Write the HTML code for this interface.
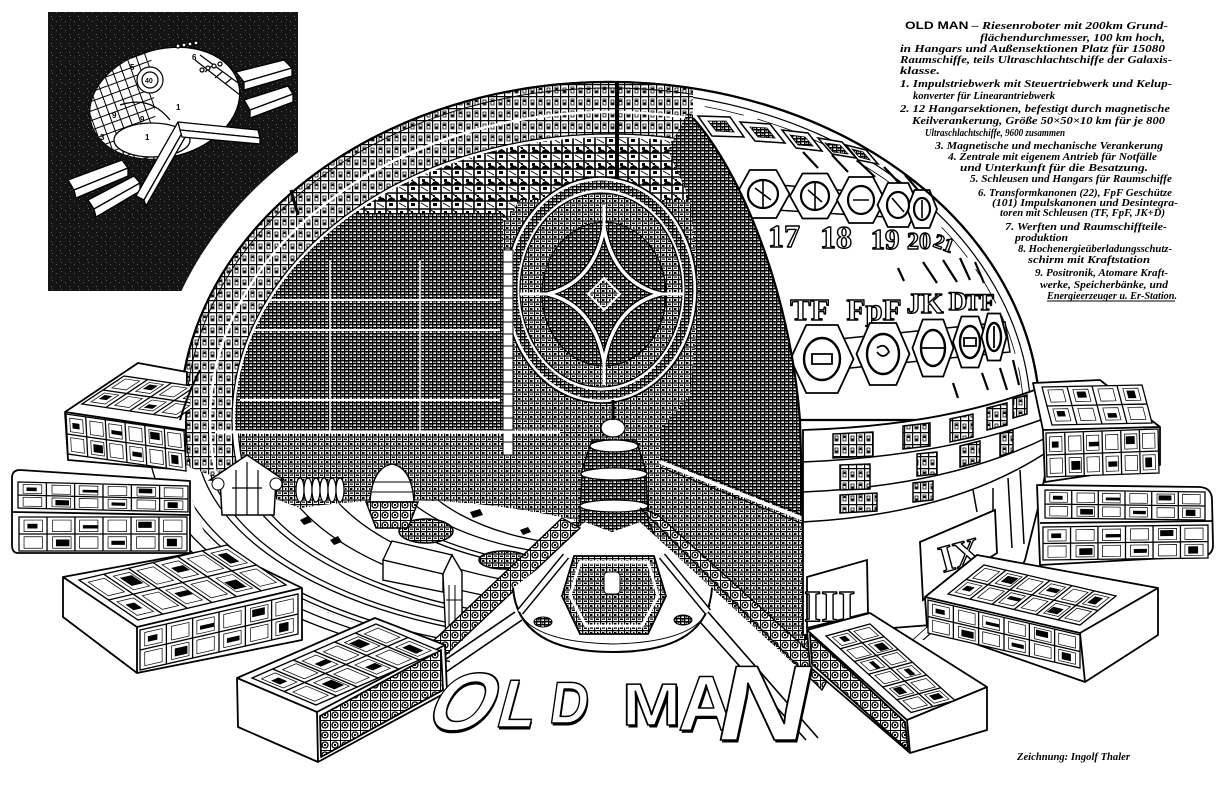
<!DOCTYPE html>
<html><head><meta charset="utf-8"><title>Old Man</title>
<style>
html,body{margin:0;padding:0;background:#fff;width:1227px;height:803px;overflow:hidden}
svg{display:block}
.t{font-family:"Liberation Serif",serif;font-style:italic;font-weight:bold;font-size:11px;fill:#000}
.big{font-family:"Liberation Sans",sans-serif;font-weight:bold;fill:#fff;stroke:#000;stroke-width:1.5;stroke-linejoin:round}
.sh{font-family:"Liberation Sans",sans-serif;font-weight:bold;fill:#000;stroke:none}
.num{font-family:"Liberation Serif",serif;font-weight:bold;fill:#fff;stroke:#000;stroke-width:1.4;stroke-linejoin:round}
</style></head><body>
<svg xmlns="http://www.w3.org/2000/svg" width="1227" height="803" viewBox="0 0 1227 803">
<defs>
<pattern id="pMed" width="12" height="9" patternUnits="userSpaceOnUse">
<rect width="12" height="9" fill="#fff"/>
<path d="M0 .6H12M0 5H12M.6 0V9M6.6 0V9" stroke="#000" stroke-width="1.2"/>
<path d="M2 2h2.5v2h-2.5zM8 6.5h3v1.5h-3zM9 2h1.5v2h-1.5zM2 6.5h3v1.3h-3z"/>
</pattern>
<pattern id="pDark" width="8" height="6" patternUnits="userSpaceOnUse">
<rect width="8" height="6" fill="#fff"/>
<path d="M0 .7H8M0 3.7H8M.7 0V6M4.7 0V6" stroke="#000" stroke-width="1.4"/>
<path d="M2 1.5h1.5v1h-1.5zM6 4.5h1.5v1h-1.5z"/>
</pattern>
<pattern id="pCell" width="16" height="12" patternUnits="userSpaceOnUse">
<rect width="16" height="12" fill="#fff"/>
<path d="M0 .6H16M.6 0V12M8.6 0V12" stroke="#000" stroke-width="1.2"/>
<path d="M3 4h3v5h-3zM11 3h3v6h-3z" fill="none" stroke="#000" stroke-width=".8"/>
<path d="M3.5 6.5h2v2h-2zM11.5 4h2v2h-2z"/>
</pattern>
<pattern id="pLat" width="22" height="16" patternUnits="userSpaceOnUse">
<rect width="22" height="16" fill="#fff"/>
<path d="M0 1H22M0 9H22M1 0V16M12 0V16" stroke="#000" stroke-width="1.6"/>
<path d="M4 9a3.5 3 0 0 1 7 0zM14 9a3.5 3 0 0 1 7 0z" fill="#000" stroke="#000" stroke-width=".9"/>
<path d="M15 11h4v3h-4zM4 3h3v3h-3zM15 3h2v2h-2z"/>
<path d="M13 2l8 6M3 11l7 4" stroke="#000" stroke-width=".9"/>
</pattern>
<pattern id="pOrn" width="10" height="10" patternUnits="userSpaceOnUse">
<rect width="10" height="10" fill="#fff"/>
<circle cx="5" cy="5" r="3" fill="none" stroke="#000" stroke-width="1.3"/>
<path d="M0 .5H10M.5 0V10" stroke="#000" stroke-width="1"/>
<path d="M4 4h2v2h-2z"/>
</pattern>
<pattern id="pSpk" width="9" height="9" patternUnits="userSpaceOnUse">
<rect width="9" height="9" fill="#141414"/>
<path d="M2 3h1v1h-1zM6 7h1v1h-1zM7 1h1v1h-1z" fill="#5a5a5a"/>
</pattern>
<pattern id="pRG" width="9" height="9" patternUnits="userSpaceOnUse" patternTransform="rotate(-20)">
<rect width="9" height="9" fill="#fff"/>
<path d="M0 .5H9M.5 0V9" stroke="#000" stroke-width="1"/>
</pattern>
<g id="w26">
<path d="M0 0H100V100H0ZM0 50H100M16.7 0V100M33.3 0V100M50 0V100M66.7 0V100M83.3 0V100" fill="#fff" stroke="#000" stroke-width="1.3" vector-effect="non-scaling-stroke"/>
<path d="M3 9h11v34h-11zM20 9h11v34h-11zM36 9h11v34h-11zM53 9h11v34h-11zM70 9h11v34h-11zM86 9h11v34h-11zM3 58h11v34h-11zM20 58h11v34h-11zM36 58h11v34h-11zM53 58h11v34h-11zM70 58h11v34h-11zM86 58h11v34h-11z" fill="none" stroke="#000" stroke-width=".7" vector-effect="non-scaling-stroke"/>
<path d="M5 20h6v14h-6zM38 24h9v10h-9zM71 14h8v18h-8zM22 66h8v20h-8zM55 70h8v12h-8zM88 64h6v22h-6z"/>
</g>
<g id="w24">
<path d="M0 0H100V100H0ZM0 50H100M25 0V100M50 0V100M75 0V100" fill="#fff" stroke="#000" stroke-width="1.3" vector-effect="non-scaling-stroke"/>
<path d="M5 10h15v32h-15zM30 10h15v32h-15zM55 10h15v32h-15zM80 10h15v32h-15zM5 60h15v32h-15zM30 60h15v32h-15zM55 60h15v32h-15zM80 60h15v32h-15z" fill="none" stroke="#000" stroke-width=".7" vector-effect="non-scaling-stroke"/>
<path d="M8 22h8v14h-8zM58 16h9v12h-9zM33 70h9v16h-9zM83 66h8v20h-8z"/>
</g>
<clipPath id="cDome"><ellipse cx="610" cy="420" rx="430" ry="338"/></clipPath>
<clipPath id="cInt"><path d="M150,60 H693 V118 C740,170 790,290 800,420 L806,640 L822,690 L640,522 L612,532 L585,522 L440,645 A440,222 0 0 1 160,438 L150,438 Z"/></clipPath>
<clipPath id="cIn"><ellipse cx="610" cy="420" rx="375" ry="283"/></clipPath>
<clipPath id="cFloor"><path d="M175,462 L300,508 Q430,488 575,520 L440,645 A440,222 0 0 1 160,438 Z"/></clipPath>
<clipPath id="cExt"><path d="M693,118 C740,170 790,290 800,420 L806,640 L1100,640 L1100,40 L693,40 Z"/></clipPath>
<clipPath id="cRob"><ellipse cx="165" cy="103" rx="76" ry="54" transform="rotate(-15 165 103)"/></clipPath>
<clipPath id="cOut"><rect x="150" y="440" width="300" height="260"/></clipPath>
<clipPath id="cBA"><polygon points="60,360 190,360 190,480 60,480"/></clipPath>
</defs>

<rect width="1227" height="803" fill="#fff"/>

<!-- black inset box -->
<rect x="48" y="12" width="250" height="279" fill="url(#pSpk)"/>
<g stroke="#000" stroke-width="1.3" stroke-linejoin="round">
<polygon points="236,72 284,60 292,68 244,82" fill="#fff"/>
<polygon points="244,82 292,68 292,76 244,90" fill="#fff"/>
<polygon points="244,100 288,86 293,94 250,110" fill="#fff"/>
<polygon points="250,110 293,94 293,102 250,118" fill="#fff"/>
<ellipse cx="165" cy="103" rx="76" ry="54" transform="rotate(-15 165 103)" fill="#fff"/>
</g>
<g clip-path="url(#cRob)">
<polygon points="85,55 150,40 160,180 85,180" fill="url(#pRG)"/>
<path d="M195,60 L240,95 M200,55 L245,88 M205,72 L212,66 M215,78 L222,72 M225,84 L232,78" stroke="#000" stroke-width="1.2"/>
<ellipse cx="152" cy="140" rx="38" ry="17" fill="#fff" stroke="#000" stroke-width="1.3"/>
<path d="M120,105 Q150,95 170,120" fill="none" stroke="#000" stroke-width="1.3"/>
</g>
<g fill="#fff" stroke="#000" stroke-width="1.2">
<circle cx="150" cy="80" r="13"/><circle cx="150" cy="80" r="8"/>
<circle cx="178" cy="46" r="2"/><circle cx="184" cy="45" r="2"/><circle cx="190" cy="44" r="2"/><circle cx="196" cy="43" r="2"/>
<circle cx="202" cy="70" r="2"/><circle cx="208" cy="68" r="2"/><circle cx="214" cy="66" r="2"/><circle cx="220" cy="64" r="2"/>
</g>
<g font-family="Liberation Sans, sans-serif" font-size="8" font-weight="bold" fill="#000">
<text x="145" y="83" font-size="7">40</text><text x="130" y="70">5</text><text x="112" y="118">9</text><text x="140" y="122">9</text><text x="176" y="110">1</text><text x="145" y="140">1</text><text x="100" y="140">3</text><text x="192" y="60">6</text>
</g>
<g stroke="#000" stroke-width="1.3" stroke-linejoin="round" fill="#fff">
<polygon points="68,180 122,160 128,168 74,190"/>
<polygon points="74,190 128,168 128,176 76,198"/>
<polygon points="88,200 134,176 140,183 94,209"/>
<polygon points="94,209 140,183 140,191 96,217"/>
<polygon points="136,196 178,122 186,126 144,200"/>
<polygon points="144,200 186,126 188,132 146,206"/>
<polygon points="178,122 258,130 260,138 180,130"/>
<polygon points="180,130 260,138 260,144 182,137"/>
</g>

<!-- white halo around dome -->
<ellipse cx="610" cy="420" rx="458" ry="366" fill="#fff"/>

<!-- dome exterior -->
<path d="M180,420 A430,338 0 0 1 1040,420 Z" fill="#fff" stroke="#000" stroke-width="2.2"/>
<g clip-path="url(#cExt)">
<ellipse cx="610" cy="420" rx="421" ry="329" fill="none" stroke="#000" stroke-width="1.2"/>
<ellipse cx="610" cy="420" rx="414" ry="322" fill="none" stroke="#000" stroke-width=".8" stroke-dasharray="40 14"/>
</g>
<g stroke="#000" stroke-width="1.5" fill="#fff">
<polygon points="698,116 730,117 744,137 712,136"/>
<polygon points="740,122 770,124 785,143 755,141"/>
<polygon points="782,130 808,133 822,151 796,148"/>
<polygon points="818,138 842,142 856,158 832,154"/>
<polygon points="846,145 866,150 878,164 858,160"/>
</g>
<g fill="url(#pDark)" stroke="#000" stroke-width=".8">
<polygon points="708,121 726,121 734,132 716,131"/>
<polygon points="750,127 767,128 775,138 758,137"/>
<polygon points="790,135 805,137 813,146 798,145"/>
<polygon points="825,143 840,145 848,154 833,152"/>
<polygon points="852,149 863,152 870,160 859,157"/>
</g>
<path d="M803,152 L818,168 M832,155 L848,172 M857,160 L875,177 M884,167 L902,186 M905,175 L918,190 M898,268 L904,281 M923,262 L937,283 M943,260 L957,282 M960,258 L970,280 M975,262 L984,283 M953,383 L958,398 M982,373 L988,390 M1000,368 L1007,390 M1013,360 L1019,385" stroke="#000" stroke-width="2.2"/>
<!-- hex row 1 -->
<polygon points="745,182 932,198 932,220 745,208" fill="#fff" stroke="#000" stroke-width="1.5"/>
<g fill="#fff" stroke="#000" stroke-width="1.8">
<polygon points="736.5,194 749.75,170 776.25,170 789.5,194 776.25,218 749.75,218"/>
<polygon points="790,196 802.5,173.5 827.5,173.5 840,196 827.5,218.5 802.5,218.5"/>
<polygon points="837,200 849,177 873,177 885,200 873,223 849,223"/>
<polygon points="877.5,205 887.75,183 908.25,183 918.5,205 908.25,227 887.75,227"/>
<polygon points="907,209 914.5,190 929.5,190 937,209 929.5,228 914.5,228"/>
</g>
<g fill="#fff" stroke="#000" stroke-width="2.2">
<ellipse cx="763" cy="194" rx="15" ry="14"/><ellipse cx="815" cy="196" rx="14" ry="14"/><ellipse cx="861" cy="200" rx="13" ry="14"/><ellipse cx="898" cy="205" rx="11" ry="13"/><ellipse cx="922" cy="209" rx="8" ry="11"/>
</g>
<path d="M755,188 L771,200 M763,181 V207 M808,190 L822,202 M815,183 V209 M853,200 H869 M892,198 L904,212 M922,200 V218" stroke="#000" stroke-width="1.6"/>
<text class="num" x="784" y="247" font-size="32" text-anchor="middle">17</text>
<text class="num" x="836" y="248" font-size="32" text-anchor="middle">18</text>
<text class="num" x="885" y="249" font-size="29" text-anchor="middle">19</text>
<text class="num" x="919" y="249" font-size="24" text-anchor="middle">20</text>
<text class="num" x="944" y="250" font-size="20" text-anchor="middle" transform="rotate(20 944 243)">21</text>
<text class="num" x="810" y="320" font-size="31" text-anchor="middle">TF</text>
<text class="num" x="874" y="320" font-size="31" text-anchor="middle">FpF</text>
<text class="num" x="925" y="313" font-size="29" text-anchor="middle">JK</text>
<text class="num" x="958" y="310" font-size="26" text-anchor="middle">D</text>
<text class="num" x="980" y="310" font-size="23" text-anchor="middle">TF</text>
<!-- hex row 2 -->
<polygon points="800,343 1005,322 1010,352 800,373" fill="#fff" stroke="#000" stroke-width="1.5"/>
<g fill="#fff" stroke="#000" stroke-width="1.8">
<polygon points="790.5,359 806.25,325 837.75,325 853.5,359 837.75,393 806.25,393"/>
<polygon points="856.5,354 869.75,323 896.25,323 909.5,354 896.25,385 869.75,385"/>
<polygon points="912.5,348 922.75,319.5 943.25,319.5 953.5,348 943.25,376.5 922.75,376.5"/>
<polygon points="953,342 961.5,316.5 978.5,316.5 987,342 978.5,367.5 961.5,367.5"/>
<polygon points="981.5,337 987.75,313.5 1000.25,313.5 1006.5,337 1000.25,360.5 987.75,360.5"/>
</g>
<g fill="#fff" stroke="#000" stroke-width="2.4">
<ellipse cx="822" cy="359" rx="18" ry="21"/><ellipse cx="883" cy="354" rx="16" ry="20"/><ellipse cx="933" cy="348" rx="12" ry="18"/><ellipse cx="970" cy="342" rx="10" ry="16"/><ellipse cx="994" cy="337" rx="7" ry="14"/>
</g>
<path d="M812,354 h20 v10 h-20z M877,348 q8,-6 12,4 q-6,8 -12,0 M921,348 H945 M964,338 h12 v8 h-12z M994,326 V348" fill="none" stroke="#000" stroke-width="1.8"/>

<!-- interior cutaway -->
<g clip-path="url(#cDome)"><g clip-path="url(#cInt)">
<rect x="150" y="60" width="700" height="700" fill="url(#pMed)"/>
<path fill-rule="evenodd" fill="url(#pCell)" d="M180,420 A430,338 0 0 1 1040,420 A430,338 0 0 1 180,420 Z M235,420 A375,283 0 0 1 985,420 A375,283 0 0 1 235,420 Z"/>
<ellipse cx="610" cy="420" rx="375" ry="283" fill="none" stroke="#fff" stroke-width="5"/>
<ellipse cx="610" cy="420" rx="378" ry="286" fill="none" stroke="#000" stroke-width="1.2"/>
<ellipse cx="610" cy="420" rx="372" ry="280" fill="none" stroke="#000" stroke-width="1.2"/>
<ellipse cx="610" cy="420" rx="424" ry="332" fill="none" stroke="#000" stroke-width="1"/>
<ellipse cx="610" cy="420" rx="400" ry="308" fill="none" stroke="#fff" stroke-width="2.5"/>
<g clip-path="url(#cIn)">
<path d="M300,220 L300,130 L700,130 L700,200 L520,200 L506,220 Z" fill="url(#pLat)"/>
<path d="M225,213 L503,213 L503,432 L210,432 Z" fill="url(#pDark)"/>
<path d="M260,300 H500 M250,330 H500 M240,400 H500" stroke="#fff" stroke-width="2"/>
<path d="M330,260 V432 M420,260 V432" stroke="#fff" stroke-width="1.5"/>
</g>
<path d="M688,112 L696,118 C742,170 790,290 800,420 L806,520 L660,462 L660,430 L690,395 L700,290 L690,200 L668,150 Z" fill="url(#pDark)"/>
<path d="M660,462 L806,520" stroke="#fff" stroke-width="4"/>
<path d="M660,458 L806,516 M660,467 L806,525" stroke="#000" stroke-width="1.2"/>
<line x1="617" y1="80" x2="617" y2="215" stroke="#000" stroke-width="4"/>
<!-- circle -->
<ellipse cx="601" cy="290" rx="96" ry="113" fill="#fff" stroke="#000" stroke-width="1.6"/>
<ellipse cx="601" cy="290" rx="88" ry="105" fill="none" stroke="url(#pDark)" stroke-width="9"/>
<ellipse cx="601" cy="290" rx="81" ry="97" fill="url(#pMed)" stroke="#000" stroke-width="1.3"/>
<ellipse cx="604" cy="294" rx="62" ry="72" fill="url(#pDark)" stroke="#000" stroke-width="1.3"/>
<path d="M604,228 Q614,282 660,294 Q614,306 604,362 Q594,306 548,294 Q594,282 604,228 Z" fill="none" stroke="#000" stroke-width="6"/>
<path d="M604,228 Q614,282 660,294 Q614,306 604,362 Q594,306 548,294 Q594,282 604,228 Z" fill="none" stroke="#fff" stroke-width="3.5"/>
<path d="M520,294 H548 M660,294 H684 M604,205 V228 M604,362 V385" stroke="#fff" stroke-width="3"/>
<path d="M604,278 L620,294 L604,310 L588,294 Z" fill="url(#pMed)" stroke="#fff" stroke-width="2"/>
<!-- white column -->
<rect x="503" y="250" width="10" height="205" fill="#fff" stroke="#000" stroke-width="1"/>
<path d="M503,262 h10 M503,274 h10 M503,286 h10 M503,298 h10 M503,310 h10 M503,322 h10 M503,334 h10 M503,346 h10 M503,358 h10 M503,370 h10 M503,382 h10 M503,394 h10 M503,406 h10 M503,418 h10 M503,430 h10 M503,442 h10" stroke="#000" stroke-width="1"/>
<path d="M215,432 H560" stroke="#fff" stroke-width="3"/>
<!-- reactor column -->
<path d="M592,440 L636,440 L646,470 L648,520 L660,548 L568,548 L580,520 L582,470 Z" fill="url(#pDark)" stroke="#000" stroke-width="1.5"/>
<g fill="#fff" stroke="#000" stroke-width="1.2">
<ellipse cx="614" cy="446" rx="24" ry="6"/>
<ellipse cx="614" cy="474" rx="33" ry="6"/>
<ellipse cx="614" cy="506" rx="34" ry="6"/>
<ellipse cx="614" cy="540" rx="44" ry="8"/>
<ellipse cx="613" cy="428" rx="12" ry="9"/>
</g>
<line x1="613" y1="400" x2="613" y2="420" stroke="#000" stroke-width="3"/>
<!-- floor -->
<g clip-path="url(#cFloor)">
<rect x="150" y="430" width="450" height="240" fill="#fff"/>
<g fill="none" stroke="#000" stroke-width="1.3">
<ellipse cx="600" cy="438" rx="436" ry="220"/>
<ellipse cx="600" cy="438" rx="428" ry="216"/>
<ellipse cx="600" cy="438" rx="404" ry="204"/>
<ellipse cx="600" cy="438" rx="396" ry="200"/>
<ellipse cx="600" cy="438" rx="370" ry="187"/>
<ellipse cx="600" cy="438" rx="362" ry="183"/>
<ellipse cx="600" cy="438" rx="330" ry="168"/>
<ellipse cx="600" cy="438" rx="290" ry="150"/>
<ellipse cx="600" cy="438" rx="262" ry="134"/>
<ellipse cx="600" cy="438" rx="255" ry="130"/>
<ellipse cx="600" cy="438" rx="225" ry="118"/>
<ellipse cx="600" cy="438" rx="198" ry="108"/>
</g>
<ellipse cx="426" cy="531" rx="27" ry="12" fill="url(#pMed)" stroke="#000" stroke-width="1.5"/>
<ellipse cx="504" cy="560" rx="25" ry="9" fill="url(#pMed)" stroke="#000" stroke-width="1.5"/>
<path d="M300,520 l8,-4 l4,6 l-8,3z M330,540 l8,-4 l4,6 l-8,3z M470,512 l10,-3 l3,6 l-10,3z M520,530 l8,-3 l3,5 l-8,3z" fill="#000"/>
</g>
<!-- machinery -->
<path d="M370,502 Q372,468 392,464 Q412,468 414,502 Z" fill="#fff" stroke="#000" stroke-width="1.4"/>
<path d="M366,502 L418,502 L408,528 L376,528 Z" fill="url(#pOrn)" stroke="#000" stroke-width="1.4"/>
<path d="M374,482 H410 M372,492 H412" stroke="#000"/>
<g fill="#fff" stroke="#000" stroke-width="1.2">
<ellipse cx="300" cy="490" rx="4" ry="12"/><ellipse cx="308" cy="490" rx="4" ry="12"/><ellipse cx="316" cy="490" rx="4" ry="12"/><ellipse cx="324" cy="490" rx="4" ry="12"/><ellipse cx="332" cy="490" rx="4" ry="12"/><ellipse cx="340" cy="490" rx="4" ry="12"/>
</g>
<path d="M210,480 L247,455 L284,480 L276,480 L274,515 L222,515 L220,480 Z" fill="#fff" stroke="#000" stroke-width="1.5"/>
<path d="M247,462 V515 M236,470 V515 M258,470 V515 M232,488 H262" stroke="#000" stroke-width="1.2"/>
<circle cx="218" cy="484" r="6" fill="#fff" stroke="#000"/>
<circle cx="276" cy="484" r="6" fill="#fff" stroke="#000"/>
<!-- floor house -->
<polygon points="383,560 392,541 452,555 443,574" fill="#fff" stroke="#000" stroke-width="1.4"/>
<polygon points="383,560 443,574 443,592 383,580" fill="#fff" stroke="#000" stroke-width="1.4"/>
</g></g>

<!-- outer rails -->
<g fill="none" stroke="#000" stroke-width="1.3" clip-path="url(#cOut)">
<ellipse cx="600" cy="438" rx="452" ry="228"/>
<ellipse cx="600" cy="438" rx="466" ry="236"/>
</g>
<polygon points="443,574 452,555 462,572 462,640 446,640" fill="#fff" stroke="#000" stroke-width="1.4"/>
<path d="M449,585 V635 M455,585 V635 M446,600 H462" stroke="#000"/>

<!-- section strips -->
<polygon points="562,518 580,528 400,698 384,688" fill="url(#pOrn)" stroke="#000" stroke-width="1.4"/>
<polygon points="640,508 658,515 832,672 822,690" fill="url(#pOrn)" stroke="#000" stroke-width="1.4"/>
<path d="M515,612 L398,692 M522,620 L408,698 M708,612 L818,738 M700,622 L806,740" stroke="#000" stroke-width="1.6"/>

<!-- lower sphere -->
<path d="M513,588 Q518,652 613,652 Q708,652 712,588 L668,552 L560,552 Z" fill="#fff"/>
<path d="M513,588 Q518,652 613,652 Q708,652 712,588" fill="none" stroke="#000" stroke-width="2"/>
<path d="M516,605 Q526,642 613,644 Q700,642 710,605" fill="none" stroke="#000" stroke-width="1"/>
<polygon points="574,556 654,556 666,596 648,634 580,634 562,596" fill="url(#pMed)" stroke="#000" stroke-width="1.8"/>
<polygon points="580,562 648,562 658,596 642,626 586,626 570,596" fill="none" stroke="#fff" stroke-width="3"/>
<rect x="604" y="572" width="16" height="22" rx="4" fill="#fff" stroke="#000"/>
<path d="M566,556 L520,612 M662,556 L708,612" stroke="#000" stroke-width="8"/>
<path d="M566,556 L520,612 M662,556 L708,612" stroke="#fff" stroke-width="5"/>
<ellipse cx="543" cy="622" rx="9" ry="5" fill="url(#pDark)" stroke="#000"/>
<ellipse cx="683" cy="620" rx="9" ry="5" fill="url(#pDark)" stroke="#000"/>

<!-- cut line and dome outline -->
<path d="M693,118 C740,170 790,290 800,420 L806,640" fill="none" stroke="#000" stroke-width="2.2"/>
<path d="M180,420 A430,338 0 0 1 1040,420" fill="none" stroke="#000" stroke-width="2.2"/>
<line x1="291" y1="190" x2="298" y2="215" stroke="#000" stroke-width="3"/>

<!-- base ring right -->
<path d="M803,430 Q940,426 1040,388 L1056,398 Q1064,425 1050,450 L1040,500 L1025,560 L995,620 L803,635 Z" fill="#fff" stroke="#000" stroke-width="1.8"/>
<g fill="none" stroke="#000" stroke-width="1.5">
<path d="M803,462 Q945,456 1046,418"/>
<path d="M803,492 Q950,486 1050,436"/>
<path d="M803,522 Q955,514 1050,450"/>
<path d="M973,490 L977,512 M993,488 V552 M1008,478 L1012,548 M1020,470 L1024,544"/>
</g>
<g fill="url(#pCell)" stroke="#000" stroke-width="1.5">
<polygon points="833,434 873,432 873,456 833,458"/>
<polygon points="903,426 930,423 930,446 903,449"/>
<polygon points="950,419 973,414 973,437 950,442"/>
<polygon points="987,408 1007,403 1007,425 987,430"/>
<polygon points="1013,399 1027,395 1027,414 1013,418"/>
<polygon points="840,465 870,464 870,489 840,490"/>
<polygon points="917,454 937,452 937,474 917,476"/>
<polygon points="960,446 980,441 980,462 960,467"/>
<polygon points="1000,434 1013,430 1013,452 1000,456"/>
<polygon points="840,495 877,493 877,511 840,513"/>
<polygon points="913,483 933,481 933,500 913,502"/>
</g>

<!-- panels IX / III -->
<polygon points="920,542 995,510 997,553 923,600" fill="#fff" stroke="#000" stroke-width="1.8"/>
<text class="num" x="938" y="568" font-size="38" transform="rotate(-15 958 552)">IX</text>
<polygon points="807,577 867,560 868,613 807,628" fill="#fff" stroke="#000" stroke-width="1.8"/>
<text class="num" x="804" y="621" font-size="44">III</text>

<!-- left buildings -->
<g stroke="#000" stroke-width="1.8" stroke-linejoin="round">
<polygon points="65,412 138,363 187,372 185,470 68,460" fill="#fff"/>
<path d="M65,412 L185,430" fill="none"/>
</g>
<g clip-path="url(#cBA)">
<use href="#w26" transform="matrix(1.18,.17,.02,.40,66,414)"/>
<use href="#w24" transform="matrix(.95,.14,.42,-.28,82,404)"/>
</g>
<path d="M180,420 A430,338 0 0 1 200,370" fill="none" stroke="#000" stroke-width="2"/>

<g stroke="#000" stroke-width="1.8" stroke-linejoin="round">
<path d="M20,470 L190,481 L190,553 L18,553 Q12,553 12,545 L12,478 Q12,470 20,470 Z" fill="#fff"/>
<path d="M13,512 L190,515" fill="none"/>
</g>
<use href="#w26" transform="matrix(1.7,.04,0,.26,18,482)"/>
<use href="#w26" transform="matrix(1.68,0,0,.34,19,517)"/>

<g stroke="#000" stroke-width="1.8" stroke-linejoin="round">
<polygon points="63,577 220,548 302,588 302,640 137,673 63,617" fill="#fff"/>
<path d="M63,577 L137,627 L302,588 M137,627 L137,673" fill="none"/>
</g>
<use href="#w26" transform="matrix(1.48,-.35,-.59,-.40,138,620)"/>
<use href="#w26" transform="matrix(1.58,-.36,0,.40,140,630)"/>

<g stroke="#000" stroke-width="1.8" stroke-linejoin="round">
<polygon points="237,678 375,618 445,645 447,692 318,762 238,727" fill="#fff"/>
<polygon points="320,716 441,650 443,690 321,757" fill="url(#pOrn)"/>
<path d="M237,678 L317,712 L445,645 M317,712 L318,762" fill="none"/>
</g>
<use href="#w26" transform="matrix(1.24,-.54,.64,.27,252,678)"/>

<!-- right buildings -->
<g stroke="#000" stroke-width="1.8" stroke-linejoin="round">
<polygon points="1033,383 1100,380 1160,427 1160,465 1045,482 1043,430" fill="#fff"/>
<path d="M1043,430 L1160,427" fill="none"/>
</g>
<use href="#w26" transform="matrix(1.12,-.04,.01,.44,1046,433)"/>
<use href="#w24" transform="matrix(1.0,-.02,-.1,-.38,1052,425)"/>

<g stroke="#000" stroke-width="1.8" stroke-linejoin="round">
<path d="M1037,485 L1200,487 Q1212,488 1212,500 L1213,545 Q1213,555 1203,556 L1040,565 Z" fill="#fff"/>
<path d="M1040,523 L1212,521" fill="none"/>
</g>
<use href="#w26" transform="matrix(1.6,.02,0,.28,1045,490)"/>
<use href="#w26" transform="matrix(1.65,-.02,0,.33,1043,527)"/>

<g stroke="#000" stroke-width="1.8" stroke-linejoin="round">
<polygon points="925,597 977,555 1158,588 1158,635 1085,682 927,627" fill="#fff"/>
<path d="M925,597 L1080,633 L1158,588 M1080,633 L1085,682" fill="none"/>
</g>
<use href="#w26" transform="matrix(1.32,.31,.36,-.29,948,594)"/>
<use href="#w26" transform="matrix(1.52,.35,0,.33,928,600)"/>

<g stroke="#000" stroke-width="1.8" stroke-linejoin="round">
<polygon points="807,630 870,613 987,687 987,730 910,753 810,667" fill="#fff"/>
<polygon points="810,634 905,722 908,750 812,664" fill="url(#pOrn)"/>
<path d="M807,630 L907,720 L987,687 M907,720 L910,753" fill="none"/>
</g>
<use href="#w26" transform="matrix(.85,.765,.44,-.12,826,636)"/>

<!-- OLD MAN lettering -->
<g transform="translate(421,730) skewX(-25)"><text class="sh" x="1.5" y="2.5" font-size="82">O</text><text class="big" x="0" y="0" font-size="82">O</text></g>
<g transform="translate(494,727) skewX(-15) scale(.9,1)"><text class="sh" x="1.5" y="2.5" font-size="68">L</text><text class="big" x="0" y="0" font-size="68">L</text></g>
<g transform="translate(548,723) skewX(-8) scale(.9,1)"><text class="sh" x="1.5" y="2.5" font-size="59">D</text><text class="big" x="0" y="0" font-size="59">D</text></g>
<g transform="translate(622,725) scale(1.2,1)"><text class="sh" x="1.5" y="2.5" font-size="59">M</text><text class="big" x="0" y="0" font-size="59">M</text></g>
<g transform="translate(678,730)"><text class="sh" x="1.5" y="2.5" font-size="78">A</text><text class="big" x="0" y="0" font-size="78">A</text></g>
<g transform="translate(712,740) skewX(-12) scale(1.2,1)"><text class="sh" x="1.5" y="2.5" font-size="107">N</text><text class="big" x="0" y="0" font-size="107">N</text></g>

<!-- legend text -->
<text class="t" x="905" y="29" font-size="13" textLength="263" lengthAdjust="spacingAndGlyphs"><tspan font-family="Liberation Sans, sans-serif" font-style="normal">OLD MAN</tspan> – Riesenroboter mit 200km Grund-</text>
<text class="t" x="980" y="41" textLength="185" lengthAdjust="spacingAndGlyphs">flächendurchmesser, 100 km hoch,</text>
<text class="t" x="900" y="52" textLength="265" lengthAdjust="spacingAndGlyphs">in Hangars und Außensektionen Platz für 15080</text>
<text class="t" x="900" y="63" textLength="272" lengthAdjust="spacingAndGlyphs">Raumschiffe, teils Ultraschlachtschiffe der Galaxis-</text>
<text class="t" x="900" y="74" textLength="40" lengthAdjust="spacingAndGlyphs">klasse.</text>
<text class="t" x="900" y="87" textLength="272" lengthAdjust="spacingAndGlyphs">1. Impulstriebwerk mit Steuertriebwerk und Kelup-</text>
<text class="t" x="913" y="99" font-size="12" textLength="142" lengthAdjust="spacingAndGlyphs">konverter für Linearantriebwerk</text>
<text class="t" x="900" y="112" textLength="270" lengthAdjust="spacingAndGlyphs">2. 12 Hangarsektionen, befestigt durch magnetische</text>
<text class="t" x="912" y="124" textLength="253" lengthAdjust="spacingAndGlyphs">Keilverankerung, Größe 50×50×10 km für je 800</text>
<text class="t" x="925" y="136" font-size="12" textLength="140" lengthAdjust="spacingAndGlyphs">Ultraschlachtschiffe, 9600 zusammen</text>
<text class="t" x="935" y="149" textLength="228" lengthAdjust="spacingAndGlyphs">3. Magnetische und mechanische Verankerung</text>
<text class="t" x="948" y="160" textLength="209" lengthAdjust="spacingAndGlyphs">4. Zentrale mit eigenem Antrieb für Notfälle</text>
<text class="t" x="960" y="171" textLength="188" lengthAdjust="spacingAndGlyphs">und Unterkunft für die Besatzung.</text>
<text class="t" x="970" y="182" textLength="202" lengthAdjust="spacingAndGlyphs">5. Schleusen und Hangars für Raumschiffe</text>
<text class="t" x="978" y="196" textLength="194" lengthAdjust="spacingAndGlyphs">6. Transformkanonen (22), FpF Geschütze</text>
<text class="t" x="992" y="206" textLength="186" lengthAdjust="spacingAndGlyphs">(101) Impulskanonen und Desintegra-</text>
<text class="t" x="1000" y="216" font-size="12" textLength="165" lengthAdjust="spacingAndGlyphs">toren mit Schleusen (TF, FpF, JK+D)</text>
<text class="t" x="1005" y="230" textLength="162" lengthAdjust="spacingAndGlyphs">7. Werften und Raumschiffteile-</text>
<text class="t" x="1015" y="241" textLength="53" lengthAdjust="spacingAndGlyphs">produktion</text>
<text class="t" x="1018" y="252" textLength="154" lengthAdjust="spacingAndGlyphs">8. Hochenergieüberladungsschutz-</text>
<text class="t" x="1028" y="263" textLength="122" lengthAdjust="spacingAndGlyphs">schirm mit Kraftstation</text>
<text class="t" x="1035" y="276" textLength="133" lengthAdjust="spacingAndGlyphs">9. Positronik, Atomare Kraft-</text>
<text class="t" x="1040" y="288" textLength="128" lengthAdjust="spacingAndGlyphs">werke, Speicherbänke, und</text>
<text class="t" x="1047" y="299" textLength="130" lengthAdjust="spacingAndGlyphs">Energieerzeuger u. Er-Station.</text>
<line x1="1047" y1="301" x2="1175" y2="301" stroke="#000" stroke-width="1"/>

<text class="t" x="1017" y="760" font-size="10.5" textLength="113" lengthAdjust="spacingAndGlyphs">Zeichnung: Ingolf Thaler</text>
</svg>
</body></html>
